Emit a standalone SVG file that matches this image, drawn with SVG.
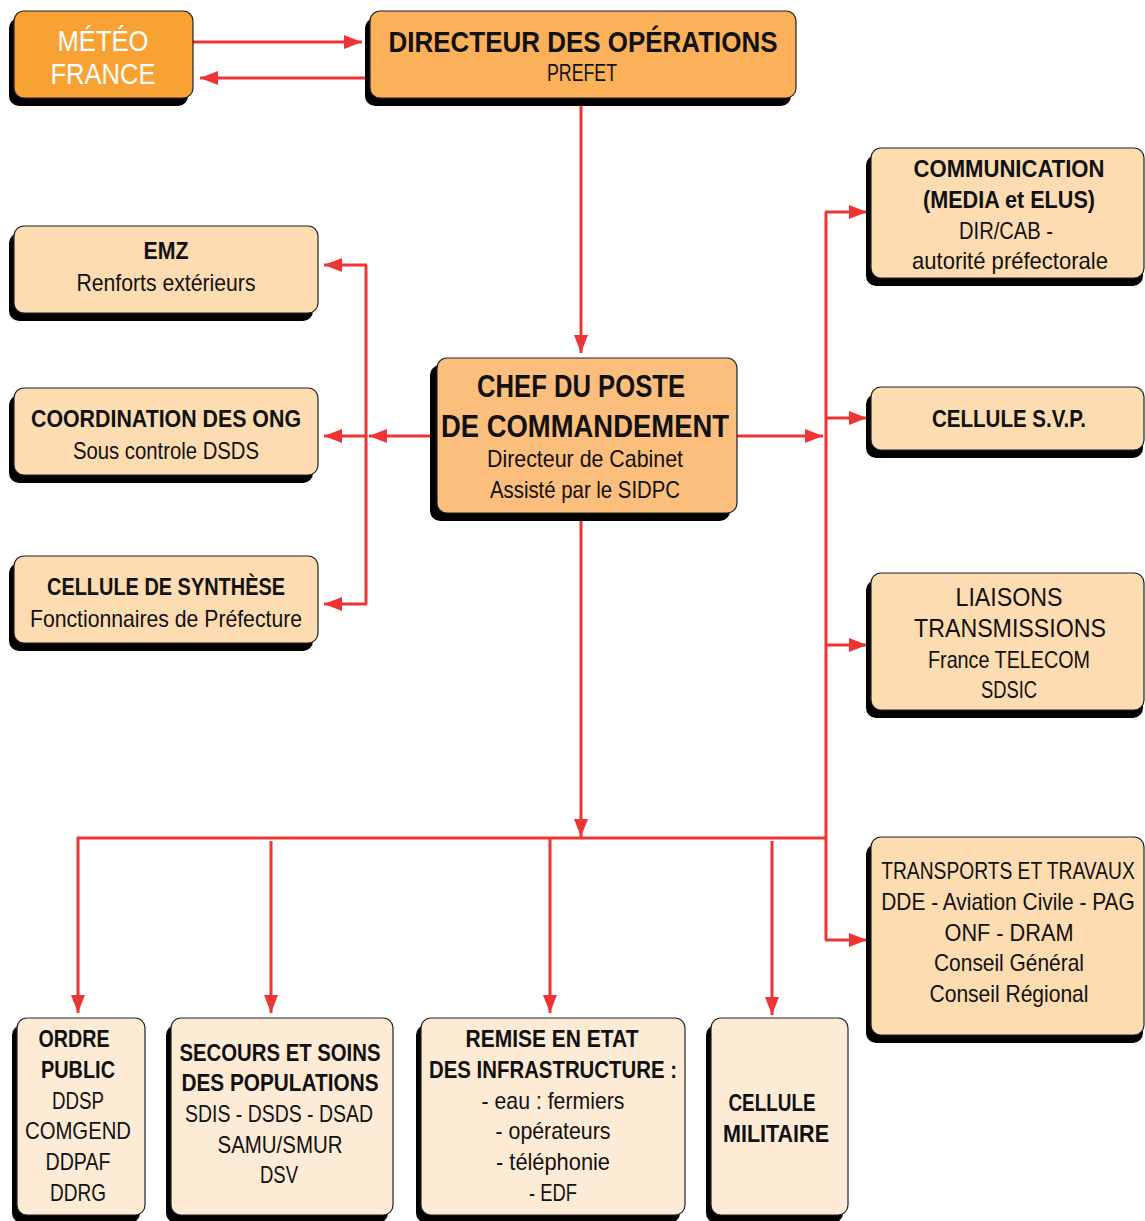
<svg xmlns="http://www.w3.org/2000/svg" width="1145" height="1221" viewBox="0 0 1145 1221">
<style>
text{font-family:"Liberation Sans","Noto Sans",sans-serif;text-anchor:middle;fill:#111}
.b{font-weight:bold}
.t{font-size:31px}
.m{font-size:24px}
.s{font-size:23px}
.sh{fill:#000}
.bx{stroke:#222;stroke-width:1.2}
.c{fill:none;stroke:#EE3535;stroke-width:3}
.a{marker-end:url(#ah)}
</style>
<defs>
<marker id="ah" markerUnits="userSpaceOnUse" markerWidth="20" markerHeight="14" refX="18" refY="7" orient="auto">
<path d="M0,0 L18,7 L0,14 Z" fill="#EE3535"/>
</marker>
</defs>
<g id="connectors">
<path class="c a" d="M193,42 H362"/>
<path class="c a" d="M367,78 H200"/>
<path class="c a" d="M581,98 V353"/>
<path class="c a" d="M437,436 H369"/>
<path class="c" d="M366,265 V604"/>
<path class="c a" d="M367,265 H324"/>
<path class="c a" d="M366,436 H324"/>
<path class="c a" d="M367,604 H324"/>
<path class="c a" d="M737,436 H823"/>
<path class="c" d="M826,212 V940"/>
<path class="c a" d="M825,212 H867"/>
<path class="c a" d="M826,418 H867"/>
<path class="c a" d="M826,645 H867"/>
<path class="c a" d="M825,940 H867"/>
<path class="c a" d="M581,513 V837"/>
<path class="c a" d="M826,838 H78 V1013"/>
<path class="c a" d="M271,841 V1013"/>
<path class="c a" d="M550,838 V1013"/>
<path class="c a" d="M772,841 V1015"/>
</g>
<g id="meteo">
<rect class="sh" x="9" y="18" width="179" height="88" rx="10"/>
<rect class="bx" x="14" y="11" width="179" height="87" rx="10" fill="#F8A233"/>
<text x="103" y="51" style="fill:#fff;font-size:30px" textLength="91" lengthAdjust="spacingAndGlyphs">MÉTÉO</text>
<text x="103" y="84" style="fill:#fff;font-size:30px" textLength="105" lengthAdjust="spacingAndGlyphs">FRANCE</text>
</g>
<g id="directeur">
<rect class="sh" x="365" y="18" width="426" height="88" rx="10"/>
<rect class="bx" x="370" y="11" width="426" height="87" rx="10" fill="#FBB05A"/>
<text class="b" x="583" y="52" style="font-size:30px" textLength="389" lengthAdjust="spacingAndGlyphs">DIRECTEUR DES OPÉRATIONS</text>
<text class="m" x="582" y="81" textLength="70" lengthAdjust="spacingAndGlyphs">PREFET</text>
</g>
<g id="chef">
<rect class="sh" x="430" y="365" width="300" height="156" rx="10"/>
<rect class="bx" x="437" y="358" width="300" height="155" rx="10" fill="#FCBE7C"/>
<text class="t b" x="581" y="397" textLength="208" lengthAdjust="spacingAndGlyphs">CHEF DU POSTE</text>
<text class="t b" x="585" y="437" textLength="288" lengthAdjust="spacingAndGlyphs">DE COMMANDEMENT</text>
<text class="m" x="585" y="467" textLength="196" lengthAdjust="spacingAndGlyphs">Directeur de Cabinet</text>
<text class="m" x="585" y="498" textLength="190" lengthAdjust="spacingAndGlyphs">Assisté par le SIDPC</text>
</g>
<g id="emz">
<rect class="sh" x="9" y="233" width="304" height="88" rx="10"/>
<rect class="bx" x="14" y="226" width="304" height="87" rx="10" fill="#FDDCB2"/>
<text class="s b" x="166" y="259" textLength="45" lengthAdjust="spacingAndGlyphs">EMZ</text>
<text class="m" x="166" y="291" textLength="179" lengthAdjust="spacingAndGlyphs">Renforts extérieurs</text>
</g>
<g id="ong">
<rect class="sh" x="9" y="395" width="304" height="88" rx="10"/>
<rect class="bx" x="14" y="388" width="304" height="87" rx="10" fill="#FDDCB2"/>
<text class="s b" x="166" y="427" textLength="270" lengthAdjust="spacingAndGlyphs">COORDINATION DES ONG</text>
<text class="m" x="166" y="459" textLength="186" lengthAdjust="spacingAndGlyphs">Sous controle DSDS</text>
</g>
<g id="synthese">
<rect class="sh" x="9" y="563" width="304" height="88" rx="10"/>
<rect class="bx" x="14" y="556" width="304" height="87" rx="10" fill="#FDDCB2"/>
<text class="s b" x="166" y="595" textLength="238" lengthAdjust="spacingAndGlyphs">CELLULE DE SYNTHÈSE</text>
<text class="m" x="166" y="627" textLength="272" lengthAdjust="spacingAndGlyphs">Fonctionnaires de Préfecture</text>
</g>
<g id="communication">
<rect class="sh" x="866" y="155" width="277" height="131" rx="10"/>
<rect class="bx" x="871" y="148" width="273" height="130" rx="10" fill="#FDDCB2"/>
<text class="s b" x="1009" y="177" textLength="191" lengthAdjust="spacingAndGlyphs">COMMUNICATION</text>
<text class="s b" x="1009" y="208" textLength="172" lengthAdjust="spacingAndGlyphs">(MEDIA et ELUS)</text>
<text class="m" x="1006" y="239" textLength="94" lengthAdjust="spacingAndGlyphs">DIR/CAB -</text>
<text class="m" x="1010" y="269" textLength="196" lengthAdjust="spacingAndGlyphs">autorité préfectorale</text>
</g>
<g id="svp">
<rect class="sh" x="866" y="394" width="277" height="64" rx="10"/>
<rect class="bx" x="871" y="387" width="273" height="63" rx="10" fill="#FDDCB2"/>
<text class="s b" x="1009" y="427" textLength="154" lengthAdjust="spacingAndGlyphs">CELLULE S.V.P.</text>
</g>
<g id="liaisons">
<rect class="sh" x="866" y="580" width="277" height="138" rx="10"/>
<rect class="bx" x="871" y="573" width="273" height="137" rx="10" fill="#FDDCB2"/>
<text class="m" x="1009" y="606" style="font-size:25px" textLength="107" lengthAdjust="spacingAndGlyphs">LIAISONS</text>
<text class="m" x="1010" y="637" style="font-size:25px" textLength="192" lengthAdjust="spacingAndGlyphs">TRANSMISSIONS</text>
<text class="m" x="1009" y="668" textLength="162" lengthAdjust="spacingAndGlyphs">France TELECOM</text>
<text class="m" x="1009" y="698" textLength="56" lengthAdjust="spacingAndGlyphs">SDSIC</text>
</g>
<g id="transports">
<rect class="sh" x="866" y="844" width="277" height="199" rx="10"/>
<rect class="bx" x="871" y="837" width="273" height="198" rx="10" fill="#FDDCB2"/>
<text class="m" transform="translate(1008,879) scale(0.8,1)" x="0" y="0" textLength="317" lengthAdjust="spacingAndGlyphs">TRANSPORTS ET TRAVAUX</text>
<text class="m" transform="translate(1008,910) scale(0.8,1)" x="0" y="0" textLength="317" lengthAdjust="spacingAndGlyphs">DDE - Aviation Civile - PAG</text>
<text class="m" x="1009" y="941" textLength="129" lengthAdjust="spacingAndGlyphs">ONF  - DRAM</text>
<text class="m" x="1009" y="971" textLength="150" lengthAdjust="spacingAndGlyphs">Conseil Général</text>
<text class="m" x="1009" y="1002" textLength="159" lengthAdjust="spacingAndGlyphs">Conseil Régional</text>
</g>
<g id="ordre">
<rect class="sh" x="12" y="1025" width="128" height="198" rx="10"/>
<rect class="bx" x="17" y="1018" width="128" height="197" rx="10" fill="#FEEBD6"/>
<text class="s b" x="74" y="1047" textLength="71" lengthAdjust="spacingAndGlyphs">ORDRE</text>
<text class="s b" x="78" y="1078" textLength="74" lengthAdjust="spacingAndGlyphs">PUBLIC</text>
<text class="m" x="78" y="1109" textLength="52" lengthAdjust="spacingAndGlyphs">DDSP</text>
<text class="m" x="78" y="1139" textLength="106" lengthAdjust="spacingAndGlyphs">COMGEND</text>
<text class="m" x="78" y="1170" textLength="65" lengthAdjust="spacingAndGlyphs">DDPAF</text>
<text class="m" x="78" y="1201" textLength="56" lengthAdjust="spacingAndGlyphs">DDRG</text>
</g>
<g id="secours">
<rect class="sh" x="166" y="1025" width="222" height="198" rx="10"/>
<rect class="bx" x="171" y="1018" width="222" height="197" rx="10" fill="#FEEBD6"/>
<text class="s b" x="280" y="1061" textLength="201" lengthAdjust="spacingAndGlyphs">SECOURS ET SOINS</text>
<text class="s b" x="280" y="1091" textLength="197" lengthAdjust="spacingAndGlyphs">DES POPULATIONS</text>
<text class="m" x="279" y="1122" textLength="188" lengthAdjust="spacingAndGlyphs">SDIS - DSDS - DSAD</text>
<text class="m" x="280" y="1153" textLength="125" lengthAdjust="spacingAndGlyphs">SAMU/SMUR</text>
<text class="m" x="279" y="1183" textLength="38" lengthAdjust="spacingAndGlyphs">DSV</text>
</g>
<g id="remise">
<rect class="sh" x="416" y="1025" width="264" height="198" rx="10"/>
<rect class="bx" x="421" y="1018" width="264" height="197" rx="10" fill="#FEEBD6"/>
<text class="s b" x="552" y="1047" textLength="173" lengthAdjust="spacingAndGlyphs">REMISE EN ETAT</text>
<text class="s b" x="553" y="1078" textLength="248" lengthAdjust="spacingAndGlyphs">DES INFRASTRUCTURE :</text>
<text class="m" x="553" y="1109" textLength="143" lengthAdjust="spacingAndGlyphs">- eau : fermiers</text>
<text class="m" x="553" y="1139" textLength="115" lengthAdjust="spacingAndGlyphs">- opérateurs</text>
<text class="m" x="553" y="1170" textLength="114" lengthAdjust="spacingAndGlyphs">- téléphonie</text>
<text class="m" x="553" y="1201" textLength="48" lengthAdjust="spacingAndGlyphs">- EDF</text>
</g>
<g id="militaire">
<rect class="sh" x="706" y="1025" width="137" height="198" rx="10"/>
<rect class="bx" x="711" y="1018" width="137" height="197" rx="10" fill="#FEEBD6"/>
<text class="s b" x="772" y="1111" textLength="87" lengthAdjust="spacingAndGlyphs">CELLULE</text>
<text class="s b" x="776" y="1142" textLength="106" lengthAdjust="spacingAndGlyphs">MILITAIRE</text>
</g>
</svg>
